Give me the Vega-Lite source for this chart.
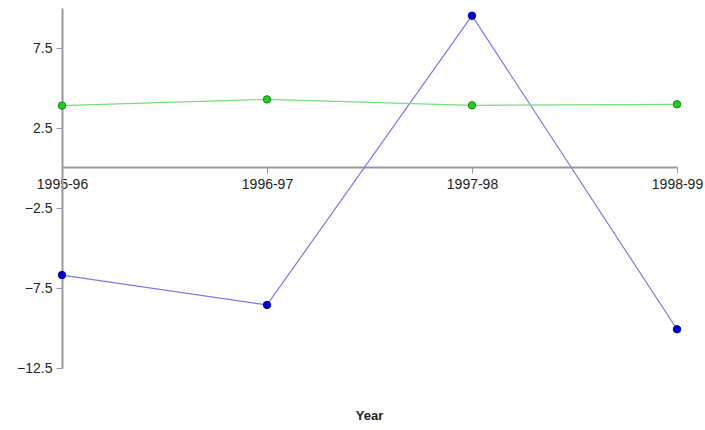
{
  "$schema": "https://vega.github.io/schema/vega-lite/v6.json",
  "width": 615,
  "height": 360,
  "autosize": "none",
  "padding": {"left": 62, "top": 8, "right": 28, "bottom": 62},
  "background": "white",
  "config": {"view": {"stroke": null}, "font": "Liberation Sans"},
  "title": {"text": "Year", "orient": "bottom", "anchor": "middle", "fontSize": 13, "fontWeight": "bold", "color": "#222", "font": "Liberation Sans", "offset": 35, "frame": "group"},
  "data": {"values": [
    {"year": "1995-96", "series": "A", "value": -6.69},
    {"year": "1996-97", "series": "A", "value": -8.56},
    {"year": "1997-98", "series": "A", "value": 9.52},
    {"year": "1998-99", "series": "A", "value": -10.08},
    {"year": "1995-96", "series": "B", "value": 3.9},
    {"year": "1996-97", "series": "B", "value": 4.29},
    {"year": "1997-98", "series": "B", "value": 3.92},
    {"year": "1998-99", "series": "B", "value": 3.98}
  ]},
  "encoding": {
    "x": {"field": "year", "type": "ordinal", "scale": {"type": "point", "padding": 0},
      "axis": {"title": null, "orient": "bottom", "offset": -201, "labelAngle": 0, "labelFontSize": 14, "labelColor": "#222", "labelPadding": 4,
        "domainColor": "#999", "domainWidth": 2, "tickColor": "#999", "tickSize": 6, "tickWidth": 1}},
    "y": {"field": "value", "type": "quantitative", "scale": {"domain": [-12.5, 10], "nice": false, "zero": false},
      "axis": {"title": null, "values": [-12.5, -7.5, -2.5, 2.5, 7.5], "grid": false, "labelFontSize": 14, "labelColor": "#222",
        "domainColor": "#999", "domainWidth": 2, "tickColor": "#999", "tickSize": 6, "labelPadding": 4, "format": ".1f"}},
    "color": {"field": "series", "type": "nominal", "legend": null}
  },
  "layer": [
    {"mark": {"type": "line", "strokeWidth": 1.2},
      "encoding": {"color": {"field": "series", "type": "nominal", "legend": null, "scale": {"domain": ["A", "B"], "range": ["#7a7ae8", "#77e077"]}}}},
    {"mark": {"type": "point", "filled": true, "size": 55, "opacity": 1, "strokeWidth": 1},
      "encoding": {"color": {"field": "series", "type": "nominal", "legend": null, "scale": {"domain": ["A", "B"], "range": ["#0000cc", "#22cc22"]}},
        "stroke": {"field": "series", "type": "nominal", "legend": null, "scale": {"domain": ["A", "B"], "range": ["#0000aa", "#118811"]}}}}
  ],
  "resolve": {"scale": {"color": "independent"}}
}
